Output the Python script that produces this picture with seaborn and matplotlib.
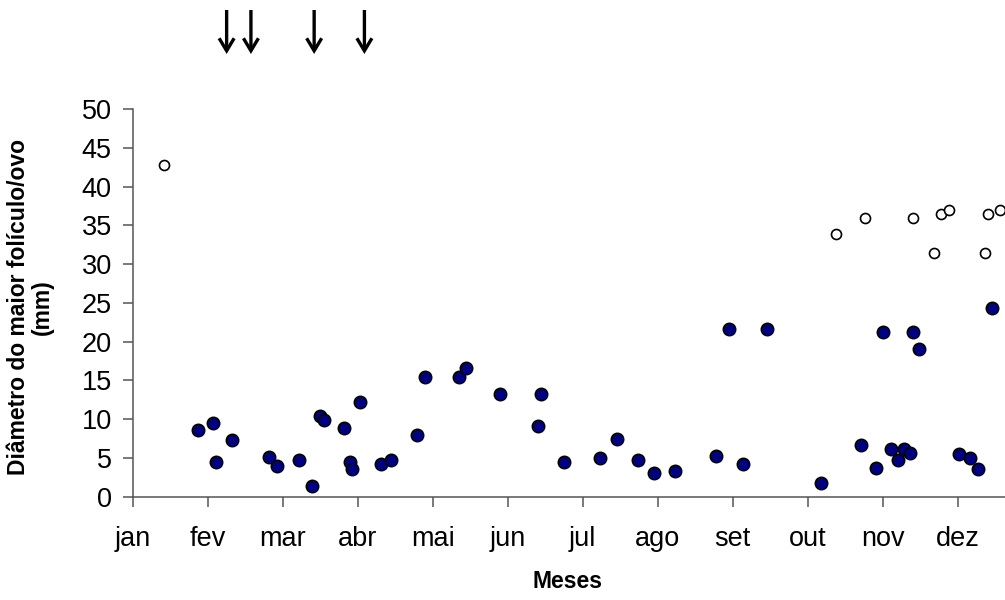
import matplotlib
matplotlib.use("Agg")
import matplotlib.pyplot as plt
import matplotlib.transforms as mtransforms
import seaborn as sns
import pandas as pd

# ---- data (x in months since 1 Jan, y in mm) ----
months = ["jan", "fev", "mar", "abr", "mai", "jun", "jul", "ago", "set", "out", "nov", "dez"]

folic_month = [0.867, 1.067, 1.115, 1.32, 1.82, 1.92, 2.217, 2.395, 2.493, 2.547,
               2.822, 2.893, 2.92, 3.03, 3.315, 3.45, 3.795, 3.9, 4.35, 4.44,
               4.9, 5.40, 5.45, 5.755, 6.227, 6.453, 6.733, 6.955, 7.23, 7.78,
               7.955, 8.133, 8.457, 9.18, 9.71, 9.91, 10.01, 10.11, 10.21, 10.29,
               10.36, 10.41, 10.49, 11.02, 11.17, 11.27, 11.46]
folic_mm = [8.6, 9.5, 4.5, 7.35, 5.16, 4.0, 4.7, 1.34, 10.37, 9.85,
            8.86, 4.47, 3.53, 12.2, 4.2, 4.73, 7.9, 15.44, 15.4, 16.64,
            13.24, 9.07, 13.24, 4.47, 4.99, 7.4, 4.73, 3.01, 3.27, 5.2,
            21.67, 4.22, 21.67, 1.8, 6.63, 3.74, 21.2, 6.19, 4.69, 6.19,
            5.67, 21.2, 19.0, 5.47, 4.95, 3.53, 24.3]

ovo_month = [0.417, 9.38, 9.76, 10.40, 10.68, 10.78, 10.89, 11.36, 11.41, 11.56]
ovo_mm = [42.74, 33.84, 35.98, 35.98, 31.39, 36.5, 36.97, 31.39, 36.5, 36.97]

arrow_month = [1.253, 1.577, 2.42, 3.09]

yticks = list(range(0, 55, 5))

df_f = pd.DataFrame({"mes": folic_month, "mm": folic_mm})
df_o = pd.DataFrame({"mes": ovo_month, "mm": ovo_mm})

sns.set_theme(style="white")
plt.rcParams["font.family"] = ["Liberation Sans", "DejaVu Sans"]
plt.rcParams["text.color"] = "black"
plt.rcParams["axes.labelcolor"] = "black"

fig = plt.figure(figsize=(10.05, 6.0), dpi=100)
ax = fig.add_axes([0.1320, 0.1722, 0.8955, 0.6462])

sns.scatterplot(data=df_f, x="mes", y="mm", ax=ax, s=80, color="#000080",
                edgecolor="black", linewidth=1.1, zorder=3, clip_on=False)
sns.scatterplot(data=df_o, x="mes", y="mm", ax=ax, s=52, color="white",
                edgecolor="black", linewidth=1.2, zorder=3, clip_on=False)

ax.set_xlim(0, 12)
ax.set_ylim(0, 50)
ax.set_xticks(range(12))
ax.set_xticklabels(months)
ax.set_yticks(yticks)
ax.set_yticklabels([str(v) for v in yticks])

for side in ["top", "right"]:
    ax.spines[side].set_visible(False)
for side in ["left", "bottom"]:
    ax.spines[side].set_color("#555555")
    ax.spines[side].set_linewidth(1.1)

ax.tick_params(axis="both", which="major", direction="out", length=7,
               width=1.1, color="#555555", labelsize=19.5, labelcolor="black",
               bottom=True, left=True)
ax.tick_params(axis="y", pad=8)
ax.tick_params(axis="x", pad=14)

ax.set_xlabel("Meses", fontsize=16.5, fontweight="bold", color="black")
ax.xaxis.set_label_coords(0.4837, -0.19)
ax.set_ylabel("Diâmetro do maior folículo/ovo\n(mm)", fontsize=16.5,
              fontweight="bold", linespacing=1.05, color="black")
ax.yaxis.set_label_coords(-0.088, 0.49)

trans = mtransforms.blended_transform_factory(ax.transData, fig.transFigure)
for xm in arrow_month:
    ax.annotate("", xy=(xm, 1 - 54 / 600), xytext=(xm, 1 - 10 / 600),
                xycoords=trans, textcoords=trans, annotation_clip=False,
                arrowprops=dict(arrowstyle="->,head_width=0.45,head_length=0.75",
                                lw=2.4, color="black", shrinkA=0, shrinkB=0,
                                joinstyle="miter", capstyle="butt"))

fig.savefig("out.png", dpi=100)
